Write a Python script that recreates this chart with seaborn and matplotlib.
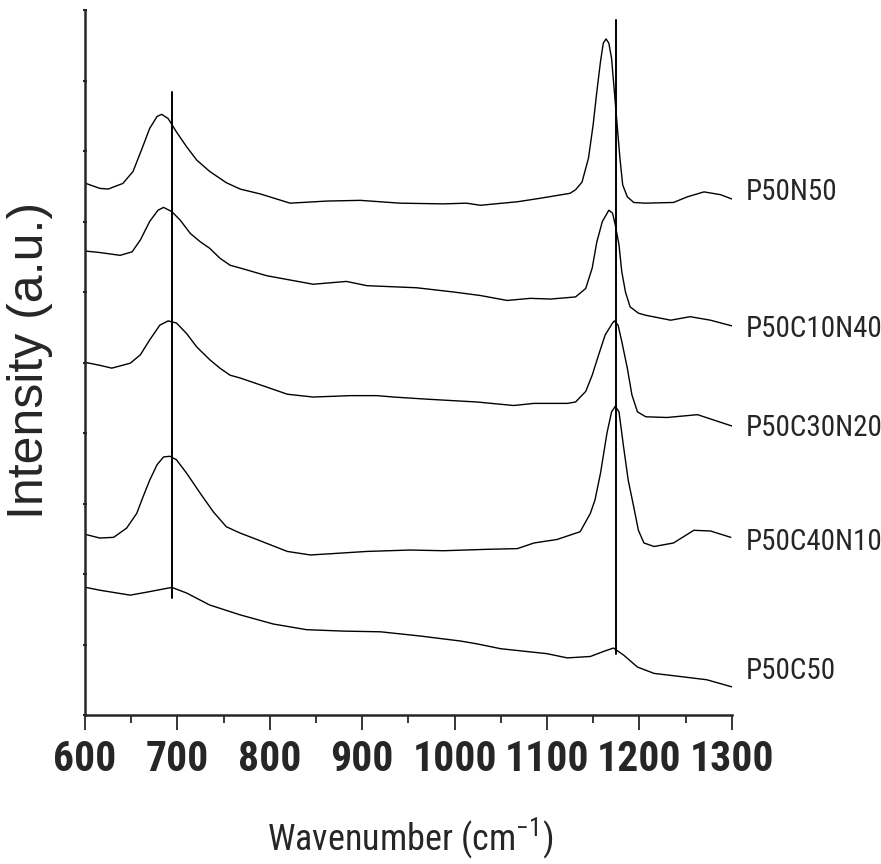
import matplotlib
matplotlib.use("Agg")
import matplotlib.pyplot as plt
import seaborn as sns
import pandas as pd

# Raman spectra of the glass series, stacked with vertical offsets (a.u.)
wn_p50n50 = [601, 616, 625, 641, 652, 661, 670, 678, 683, 690, 699, 710, 721, 735,
             753, 768, 790, 822, 862, 898, 941, 988, 1013, 1028, 1068, 1093, 1125,
             1131, 1138, 1145, 1150, 1154, 1158, 1161, 1164, 1167, 1170, 1173, 1176,
             1179, 1182, 1187, 1194, 1206, 1237, 1252, 1270, 1288, 1300]
int_p50n50 = [7.54, 7.47, 7.46, 7.54, 7.71, 8.01, 8.32, 8.49, 8.52, 8.46, 8.27, 8.06,
              7.87, 7.71, 7.55, 7.46, 7.39, 7.26, 7.29, 7.30, 7.26, 7.25, 7.26, 7.23,
              7.28, 7.33, 7.40, 7.45, 7.56, 7.90, 8.37, 8.84, 9.27, 9.53, 9.59, 9.53,
              9.31, 8.84, 8.37, 7.90, 7.52, 7.35, 7.27, 7.26, 7.27, 7.35, 7.42, 7.38,
              7.32]

wn_p50c10n40 = [601, 616, 638, 651, 660, 670, 679, 685, 694, 703, 714, 725, 735, 746,
                757, 768, 797, 847, 883, 905, 959, 999, 1028, 1057, 1082, 1104, 1131,
                1142, 1149, 1154, 1160, 1167, 1171, 1174, 1178, 1181, 1185, 1190, 1199,
                1207, 1234, 1255, 1277, 1300]
int_p50c10n40 = [6.58, 6.56, 6.52, 6.57, 6.74, 7.00, 7.16, 7.20, 7.14, 7.02, 6.83,
                 6.71, 6.62, 6.48, 6.38, 6.34, 6.23, 6.11, 6.15, 6.09, 6.06, 6.00,
                 5.95, 5.88, 5.91, 5.90, 5.93, 6.05, 6.34, 6.71, 7.00, 7.16, 7.12,
                 6.95, 6.67, 6.29, 6.00, 5.79, 5.70, 5.67, 5.60, 5.65, 5.60, 5.52]

wn_p50c30n20 = [601, 616, 629, 649, 660, 670, 681, 690, 699, 710, 721, 735, 746, 757,
                768, 797, 819, 847, 887, 916, 934, 970, 1024, 1064, 1086, 1122, 1131,
                1142, 1149, 1156, 1163, 1171, 1173, 1177, 1181, 1187, 1192, 1198, 1207,
                1230, 1263, 1300]
int_p50c30n20 = [5.00, 4.96, 4.92, 4.99, 5.11, 5.32, 5.53, 5.59, 5.56, 5.41, 5.22,
                 5.04, 4.92, 4.82, 4.78, 4.65, 4.55, 4.51, 4.53, 4.53, 4.51, 4.48,
                 4.44, 4.39, 4.42, 4.42, 4.44, 4.59, 4.82, 5.11, 5.39, 5.56, 5.59,
                 5.53, 5.30, 4.92, 4.54, 4.30, 4.23, 4.22, 4.26, 4.10]

wn_p50c40n10 = [601, 616, 631, 645, 656, 663, 670, 678, 685, 692, 699, 710, 725, 739,
                753, 768, 782, 819, 844, 869, 905, 952, 988, 1035, 1068, 1086, 1111,
                1136, 1147, 1152, 1158, 1165, 1170, 1174, 1178, 1183, 1188, 1194, 1199,
                1205, 1216, 1237, 1259, 1277, 1299]
int_p50c40n10 = [2.56, 2.51, 2.52, 2.65, 2.86, 3.10, 3.33, 3.55, 3.66, 3.67, 3.62,
                 3.43, 3.14, 2.88, 2.67, 2.58, 2.51, 2.32, 2.27, 2.29, 2.32, 2.34,
                 2.33, 2.35, 2.36, 2.44, 2.49, 2.60, 2.86, 3.05, 3.43, 4.00, 4.30,
                 4.38, 4.30, 3.80, 3.33, 2.95, 2.62, 2.44, 2.39, 2.44, 2.62, 2.61, 2.52]

wn_p50c50 = [601, 616, 649, 670, 694, 710, 735, 768, 804, 840, 880, 920, 963, 1006,
             1024, 1050, 1100, 1122, 1147, 1161, 1172, 1183, 1198, 1216, 1248, 1273,
             1300]
int_p50c50 = [1.81, 1.77, 1.70, 1.75, 1.81, 1.73, 1.56, 1.42, 1.29, 1.21, 1.19, 1.18,
              1.12, 1.05, 1.01, 0.94, 0.87, 0.81, 0.83, 0.90, 0.95, 0.85, 0.68, 0.59,
              0.54, 0.50, 0.40]

sample_names = ["P50N50", "P50C10N40", "P50C30N20", "P50C40N10", "P50C50"]
label_levels = [7.42, 5.48, 4.07, 2.46, 0.63]

# Band markers: (position, lower end, upper end)
band_lines = [(694, 1.66, 8.83), (1175, 0.87, 9.86)]

x_ticks = [600, 700, 800, 900, 1000, 1100, 1200, 1300]
x_minor = [650, 750, 850, 950, 1050, 1150, 1250]

sns.set_style("ticks")
narrow = ["Roboto Condensed", "Archivo Narrow", "Liberation Sans", "DejaVu Sans"]
plt.rcParams["font.family"] = narrow
plt.rcParams["mathtext.fontset"] = "custom"
plt.rcParams["mathtext.rm"] = "Roboto Condensed"

fig = plt.figure(figsize=(8.81, 8.64), dpi=100)
ax = fig.add_axes([85 / 881, 1 - 715 / 864, (731.7 - 85) / 881, (715 - 10) / 864])

spectra = [(wn_p50n50, int_p50n50), (wn_p50c10n40, int_p50c10n40),
           (wn_p50c30n20, int_p50c30n20), (wn_p50c40n10, int_p50c40n10),
           (wn_p50c50, int_p50c50)]
for name, (wn, inten) in zip(sample_names, spectra):
    df = pd.DataFrame({"wavenumber": wn, "intensity": inten})
    sns.lineplot(data=df, x="wavenumber", y="intensity", ax=ax,
                 color="black", linewidth=1.0, estimator=None, sort=True)
for ln in ax.get_lines():
    ln.set_solid_joinstyle("round")

for pos, y0, y1 in band_lines:
    ax.plot([pos, pos], [y0, y1], color="black", linewidth=1.4)

for name, lvl in zip(sample_names, label_levels):
    ax.text(1315, lvl, name, fontsize=21, va="center", ha="left",
            family=narrow, clip_on=False)

ax.set_xlim(600, 1300)
ax.set_ylim(0, 10)
ax.set_xticks(x_ticks)
ax.set_xticks(x_minor, minor=True)
ax.set_yticks(range(0, 11))
ax.set_yticklabels([])
ax.tick_params(axis="x", which="major", direction="out", length=11, width=1.3,
               labelsize=30, pad=6)
ax.tick_params(axis="x", which="minor", direction="out", length=6, width=1.3)
ax.tick_params(axis="y", which="major", direction="inout", length=3, width=1.5)
for lab in ax.get_xticklabels():
    lab.set_fontweight("bold")

sns.despine(ax=ax)
ax.spines["left"].set_linewidth(1.8)
ax.spines["bottom"].set_linewidth(1.8)

ax.set_xlabel("")
ax.set_ylabel("")
fig.text(410 / 881, 1 - 838 / 864, r"Wavenumber (cm$^{\mathregular{-1}}$)",
         fontsize=26, ha="center", va="center", family=narrow)
fig.text(30 / 881, 1 - 360 / 864, "Intensity (a.u.)", fontsize=36, rotation=90,
         ha="center", va="center", family=["Liberation Sans", "DejaVu Sans"])

fig.savefig("out.png", dpi=100)
